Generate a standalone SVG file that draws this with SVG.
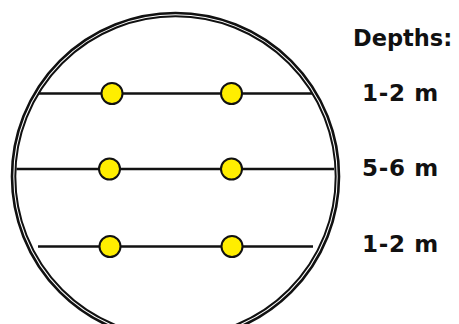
<svg xmlns="http://www.w3.org/2000/svg" width="459" height="324" viewBox="0 0 459 324">
<style>
.ring{fill:none;stroke:#111}
.ln{stroke:#111;stroke-width:2.4}
.dot{fill:#ffee00;stroke:#111;stroke-width:2}
.lbl{font-family:"DejaVu Sans",Verdana,sans-serif;font-weight:bold;font-size:22.5px;fill:#111}
.num{font-size:23px;letter-spacing:0.7px}
</style>
<rect width="459" height="324" fill="#fff"/>
<g id="circle">
<circle class="ring" cx="175.5" cy="176.5" r="163.5" stroke-width="2.6"/>
<circle class="ring" cx="175.5" cy="176.5" r="160.2" stroke-width="2"/>
</g>
<g id="connectors">
<line class="ln" x1="38" y1="93.5" x2="312" y2="93.5"/>
<line class="ln" x1="16.5" y1="169" x2="334" y2="169"/>
<line class="ln" x1="38" y1="246.5" x2="313" y2="246.5"/>
</g>
<g id="dot1"><circle class="dot" cx="112" cy="93.5" r="10.5"/></g>
<g id="dot2"><circle class="dot" cx="231.5" cy="93.5" r="10.5"/></g>
<g id="dot3"><circle class="dot" cx="109.5" cy="169" r="10.5"/></g>
<g id="dot4"><circle class="dot" cx="231.5" cy="169" r="10.5"/></g>
<g id="dot5"><circle class="dot" cx="110" cy="246.5" r="10.5"/></g>
<g id="dot6"><circle class="dot" cx="232" cy="246.5" r="10.5"/></g>
<g id="labels">
<text class="lbl" x="353" y="46">Depths:</text>
<text class="lbl num" x="362" y="101">1-2 m</text>
<text class="lbl num" x="362" y="175.5">5-6 m</text>
<text class="lbl num" x="362" y="252">1-2 m</text>
</g>
</svg>
